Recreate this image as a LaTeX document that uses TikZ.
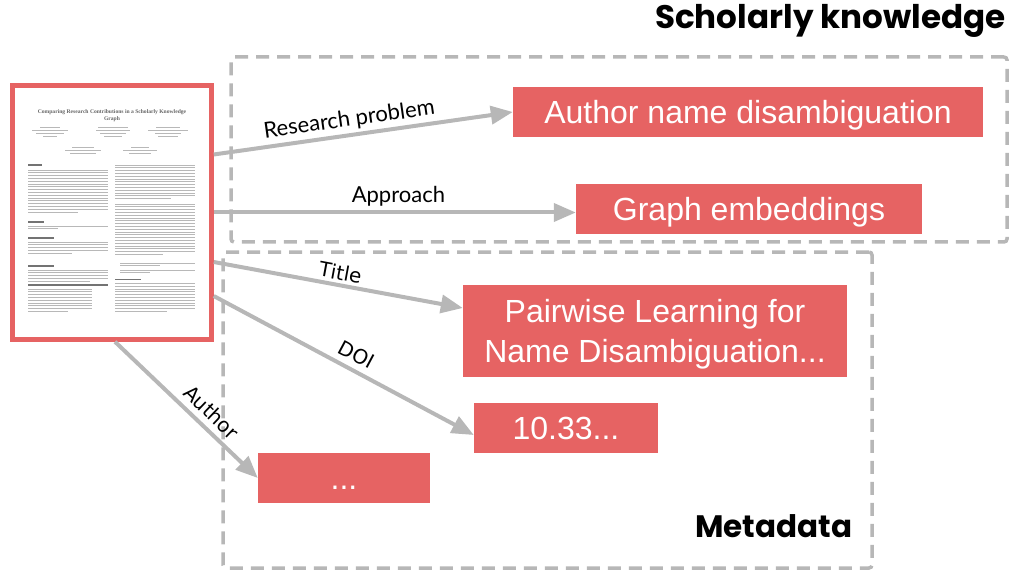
\documentclass[tikz,border=0pt]{standalone}
\usepackage{fontspec}
\setmainfont{Liberation Sans}
\newfontfamily\latofont{Lato}
\newfontfamily\dvfont{DejaVu Sans}
\newfontfamily\headfont{Poppins}
\newfontfamily\thumbserif{Liberation Serif}
\usetikzlibrary{arrows.meta,calc}

\definecolor{boxred}{HTML}{E66363}
\definecolor{linkgray}{HTML}{B7B7B7}

% a paragraph of n full-width lines followed by one shorter line
\newcommand\paperlines[5]{%
  \foreach \k in {1,...,#3}{\draw[thumbline] (#1,{#2+(\k-1)*2.8}) -- ++(#4,0);}
  \draw[thumbline] (#1,{#2+#3*2.8}) -- ++(#5,0);}

\begin{document}
\begin{tikzpicture}[x=1pt,y=-1pt,
  valuebox/.style={rectangle, fill=boxred, text=white, inner sep=0pt,
    font=\fontsize{32}{39.5}\selectfont, align=center, text depth=0pt},
  groupbox/.style={rectangle, draw=linkgray, line width=3.5pt,
    dash pattern=on 13pt off 8pt, rounded corners=3pt, inner sep=0pt},
  heading/.style={font=\headfont\bfseries\fontsize{#1}{36}\selectfont, inner sep=0pt},
  link/.style={draw=linkgray, line width=4pt,
    -{Triangle[length=22pt,width=18pt]}},
  lbl/.style={text=black, inner sep=3pt, sloped, anchor=south},
  thumbline/.style={draw=black!28, line width=0.9pt},
  thumbhead/.style={draw=black!55, line width=1.1pt},
]
\useasboundingbox (0,0) rectangle (1012,572);

% group frames
\node[groupbox, minimum width=776, minimum height=185] (sk) at (619,149.5) {};
\node[groupbox, minimum width=649, minimum height=316] (md) at (547.5,410) {};
\node[heading=32.6, anchor=base west] (skt) at (655,29) {Scholarly knowledge};
\node[heading=31, anchor=base west] (mdt) at (695,537) {Metadata};

% the paper
\node[rectangle, draw=boxred, fill=white, line width=4.5pt, inner sep=0pt,
  minimum width=199, minimum height=254] (paper) at (112,212.5) {};
\node[font=\thumbserif\bfseries\fontsize{5.6}{6.6}\selectfont, text=black!60,
  align=center, inner sep=0pt] (ptitle) at (112,115.5)
  {Comparing Research Contributions in a Scholarly Knowledge\\Graph};
\foreach \cx/\yy/\w in {50/127/20, 50/130/36, 50/133/28, 50/136/14,
    113/127/30, 113/130/34, 113/133/26, 113/136/18,
    168/127/24, 168/130/40, 168/133/26, 168/136/20,
    83/147/22, 83/150/36, 83/153/26,
    140/147/18, 140/150/34, 140/153/22}
  \draw[thumbline] ({\cx-\w/2},\yy) -- ++(\w,0);
% left column
\draw[thumbhead] (28,165) -- ++(14,0);
\paperlines{28}{170}{15}{80}{50}
\draw[thumbhead] (28,222) -- ++(16,0);
\paperlines{28}{226}{1}{80}{30}
\draw[thumbhead] (28,238) -- ++(26,0);
\paperlines{28}{242}{4}{80}{44}
\draw[thumbhead] (28,266) -- ++(26,0);
\paperlines{28}{270}{4}{80}{62}
\draw[thumbhead] (28,285) -- ++(80,0);
\paperlines{28}{289}{8}{64}{40}
% right column
\paperlines{115}{165}{12}{80}{56}
\paperlines{115}{204}{18}{80}{48}
\paperlines{120}{263}{1}{75}{40}
\paperlines{120}{270}{1}{75}{30}
\draw[thumbhead] (115,279.5) -- ++(26,0);
\paperlines{115}{283.5}{10}{80}{52}

% values
\node[valuebox, minimum width=470, minimum height=50, text height=23pt] (prob) at (748,112) {Author name disambiguation};
\node[valuebox, minimum width=346, minimum height=50, text height=23pt] (emb) at (749,209) {Graph embeddings};
\node[valuebox, minimum width=384, minimum height=92] (title) at (655,331) {Pairwise Learning for\\Name Disambiguation...};
\node[valuebox, minimum width=184, minimum height=50, text height=23pt] (doi) at (566,428) {10.33...};
\node[valuebox, minimum width=172, minimum height=50, text height=23pt] (auth) at (344,478) {...};

% relations
\draw[link] ($(paper.east)+(0,-58)$) -- node[lbl, pos=0.46, font=\latofont\fontsize{22}{26}\selectfont] {Research problem} (prob.west);
\draw[link] (paper.east) -- node[lbl, pos=0.51, font=\latofont\fontsize{22}{26}\selectfont, inner sep=4pt] {Approach} (paper.east -| emb.west);
\draw[link] ($(paper.east)+(0,49.5)$) -- node[lbl, pos=0.5, font=\dvfont\fontsize{20}{24}\selectfont] {Title} ($(title.west)+(0,-23)$);
\draw[link] ($(paper.east)+(0,83.5)$) -- node[lbl, pos=0.52, inner sep=6pt, font=\dvfont\fontsize{20}{24}\selectfont] {DOI} ($(doi.west)+(0,7)$);
\draw[link] ($(paper.south)+(3,0)$) -- node[lbl, pos=0.6, inner sep=6pt, font=\dvfont\fontsize{20}{24}\selectfont] {Author} (auth.west);
\end{tikzpicture}
\end{document}
